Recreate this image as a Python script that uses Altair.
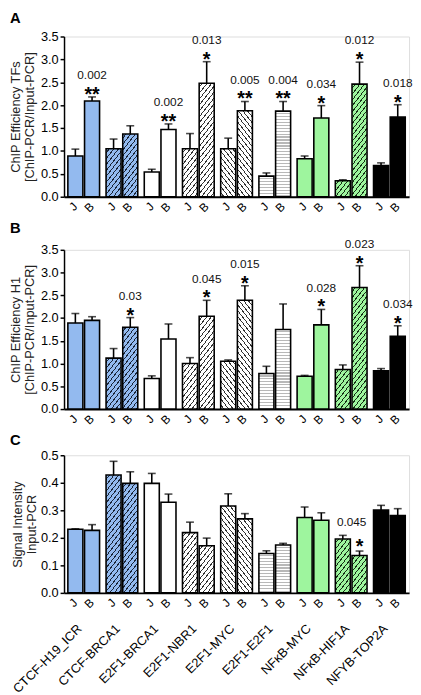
import math
import altair as alt

groups = ["CTCF-H19_ICR", "CTCF-BRCA1", "E2F1-BRCA1", "E2F1-NBR1", "E2F1-MYC",
          "E2F1-E2F1", "NFκB-MYC", "NFκB-HIF1A", "NFYB-TOP2A"]
conds = ["J", "B"]

# Panel A: ChIP efficiency TFs
A_J = [0.89, 1.05, 0.54, 1.05, 1.05, 0.45, 0.83, 0.35, 0.68]
A_J_err = [0.15, 0.21, 0.06, 0.33, 0.23, 0.07, 0.06, 0.02, 0.06]
A_B = [2.09, 1.37, 1.47, 2.48, 1.88, 1.87, 1.72, 2.46, 1.74]
A_B_err = [0.09, 0.18, 0.12, 0.47, 0.20, 0.21, 0.27, 0.48, 0.27]
A_p = {0: ("0.002", "**"), 2: ("0.002", "**"), 3: ("0.013", "*"), 4: ("0.005", "**"),
       5: ("0.004", "**"), 6: ("0.034", "*"), 7: ("0.012", "*"), 8: ("0.018", "*")}

# Panel B: ChIP efficiency H1
B_J = [1.89, 1.12, 0.67, 1.00, 1.05, 0.78, 0.72, 0.87, 0.84]
B_J_err = [0.21, 0.21, 0.06, 0.13, 0.03, 0.16, 0.02, 0.10, 0.05]
B_B = [1.95, 1.80, 1.54, 2.04, 2.39, 1.75, 1.85, 2.67, 1.60]
B_B_err = [0.08, 0.21, 0.33, 0.35, 0.32, 0.56, 0.34, 0.48, 0.23]
B_p = {1: ("0.03", "*"), 3: ("0.045", "*"), 4: ("0.015", "*"), 6: ("0.028", "*"),
       7: ("0.023", "*"), 8: ("0.034", "*")}

# Panel C: Signal intensity input-PCR
C_J = [0.231, 0.428, 0.398, 0.219, 0.316, 0.143, 0.274, 0.196, 0.301]
C_J_err = [0.002, 0.050, 0.036, 0.038, 0.044, 0.010, 0.038, 0.013, 0.017]
C_B = [0.227, 0.398, 0.329, 0.171, 0.269, 0.174, 0.264, 0.136, 0.281]
C_B_err = [0.021, 0.042, 0.030, 0.028, 0.019, 0.006, 0.027, 0.016, 0.025]
C_p = {7: ("0.045", "*")}

FONT = "Liberation Sans"
W = 351
PAD_IN, PAD_OUT, OFF_PAD = 0.17, 0.10, 0.10
step = W / (len(groups) - PAD_IN + 2 * PAD_OUT)
gband = step * (1 - PAD_IN)
BAR_W = gband / (2 - OFF_PAD) * (1 - OFF_PAD)

BLUE = "#93BAEF"
GREEN = "#9EF59E"
styles = [
    ("solid", BLUE, None), ("/", BLUE, "#1b2638"), ("solid", "white", None),
    ("/", "white", "#333"), ("\\", "white", "#333"), ("h", "white", "#b8b8b8"),
    ("solid", GREEN, None), ("/", GREEN, "#163016"), ("solid", "black", None),
]


def hatch(kind, w, h, bg, fg, period=3.7, lw=0.9, angle=52):
    h = max(h, 1.0)
    if kind == "h":
        x1, y1, x2, y2 = 0, 0, 0, 1
        R = h
        period, lw = 3.0, 1.2
    else:
        th = math.radians(angle)
        if kind == "/":
            nx, ny, cx, cy = math.sin(th), math.cos(th), 0, 0
        else:
            nx, ny, cx, cy = math.sin(th), -math.cos(th), 0, 1
        us = [nx * X + ny * Y for X, Y in [(0, 0), (w, 0), (0, h), (w, h)]]
        R = max(us) - min(us)
        k = R / (nx * nx * w * w + ny * ny * h * h)
        x1, y1 = cx, cy
        x2, y2 = cx + k * nx * w, cy + k * ny * h
    stops = [{"offset": 0, "color": bg}]
    u = period * 0.6
    while u < R:
        s = u / R
        e = min(1.0, (u + lw) / R)
        stops += [{"offset": s, "color": bg}, {"offset": s, "color": fg},
                  {"offset": e, "color": fg}, {"offset": e, "color": bg}]
        u += period
    stops.append({"offset": 1, "color": bg})
    return {"gradient": "linear", "x1": x1, "y1": y1, "x2": x2, "y2": y2, "stops": stops}


def fill_for(i, hpx):
    kind, bg, fg = styles[i]
    if kind == "solid":
        return bg
    return hatch(kind, BAR_W, hpx, bg, fg)


def panel(letter, vJ, eJ, vB, eB, pmap, ymax, H, ytitle, tstep, title_pad,
          letter_y, star_dy, p_dy, p_dx, show_groups):
    recs, ann = [], []
    for i, g in enumerate(groups):
        for c, vals, errs in (("J", vJ, eJ), ("B", vB, eB)):
            v, e = vals[i], errs[i]
            recs.append({"group": g, "cond": c, "value": v, "top": v + e,
                         "fill": fill_for(i, v / ymax * H)})
        if i in pmap:
            ann.append({"group": g, "cond": "B", "value": vB[i], "top": vB[i] + eB[i],
                        "p": pmap[i][0], "stars": pmap[i][1]})
    nt = int(round(ymax / tstep))
    ticks = [round(k * tstep, 3) for k in range(nt + 1)]

    if show_groups:
        xaxis = alt.Axis(title=None, ticks=False, tickSize=0, labelAngle=-45,
                         labelAlign="right", labelBaseline="middle", labelPadding=34,
                         labelOffset=-4, labelFontSize=13, labelColor="black",
                         labelFont=FONT, domainColor="black", domainWidth=2,
                         labelOverlap=False)
    else:
        xaxis = alt.Axis(title=None, ticks=False, tickSize=0, labels=False,
                         domainColor="black", domainWidth=2)
    yaxis = alt.Axis(values=ticks, format=".1f", title=ytitle, grid=False,
                     titlePadding=title_pad, titleFontSize=13, titleLineHeight=14.5,
                     titleFontWeight="normal", titleColor="#222", titleFont=FONT,
                     labelFontSize=13, labelColor="black", labelFont=FONT,
                     labelOverlap=False, labelFlush=False,
                     domainColor="black", domainWidth=1.5, tickColor="black",
                     tickWidth=1.5, tickSize=4, labelPadding=2)
    yscale = alt.Scale(domain=[0, ymax], nice=False, zero=True)
    x = alt.X("group:N", sort=groups, axis=xaxis,
              scale=alt.Scale(paddingInner=PAD_IN, paddingOuter=PAD_OUT))
    xo = alt.XOffset("cond:N", sort=conds,
                     scale=alt.Scale(paddingInner=OFF_PAD, paddingOuter=0))
    yv = alt.Y("value:Q", scale=yscale, axis=yaxis)
    yt = alt.Y("top:Q", scale=yscale, axis=yaxis)

    base = alt.Chart(alt.Data(values=recs))
    bars = base.mark_bar(stroke="black", strokeWidth=1.6).encode(
        x=x, xOffset=xo, y=yv, fill=alt.Fill("fill:N", scale=None))
    err = base.mark_rule(color="black", strokeWidth=1.6).encode(
        x=x, xOffset=xo, y=yv, y2="top:Q")
    cap = base.mark_tick(color="black", thickness=1.6, size=8).encode(
        x=x, xOffset=xo, y=yt)
    jb = base.mark_text(align="right", baseline="middle", fontSize=12,
                        font=FONT, color="black").encode(
        x=x, xOffset=xo, y=alt.value(H + 8), text="cond:N", angle=alt.value(315))
    abase = alt.Chart(alt.Data(values=ann))
    stars = abase.mark_text(fontSize=20, fontWeight="bold", baseline="alphabetic",
                            dy=star_dy, font=FONT, color="black").encode(
        x=x, xOffset=xo, y=yt, text="stars:N")
    ptxt = abase.mark_text(fontSize=12, baseline="alphabetic", dy=p_dy, dx=p_dx,
                           font=FONT, color="#111").encode(
        x=x, xOffset=xo, y=yt, text="p:N")
    lett = alt.Chart(alt.Data(values=[{"t": letter}])).mark_text(
        fontSize=15, fontWeight="bold", align="left", baseline="alphabetic",
        font=FONT, color="black").encode(
        x=alt.value(-55), y=alt.value(letter_y), text="t:N")
    return alt.layer(bars, err, cap, jb, stars, ptxt, lett).properties(width=W, height=H)


pA = panel("A", A_J, A_J_err, A_B, A_B_err, A_p, 3.5, 163,
           ["ChIP Efficiency TFs", "[ChIP-PCR/Input-PCR]"], 0.5, 4, -14, 4, -18, 0, False)
pB = panel("B", B_J, B_J_err, B_B, B_B_err, B_p, 3.5, 162,
           ["ChIP Efficiency H1", "[ChIP-PCR/Input-PCR]"], 0.5, 4, -17, 4, -18, 0, False)
pC = panel("C", C_J, C_J_err, C_B, C_B_err, C_p, 0.5, 140,
           ["Signal Intensity", "Input-PCR"], 0.1, 2, -10, 2, -25, -8, True)

chart = alt.vconcat(pA, pB, pC, spacing=5).properties(
    padding={"left": 0, "top": -4, "right": 0, "bottom": 0}
).configure_view(stroke=None).configure(font=FONT)

chart.save("out.html", embed_options={"renderer": "svg", "actions": False})
